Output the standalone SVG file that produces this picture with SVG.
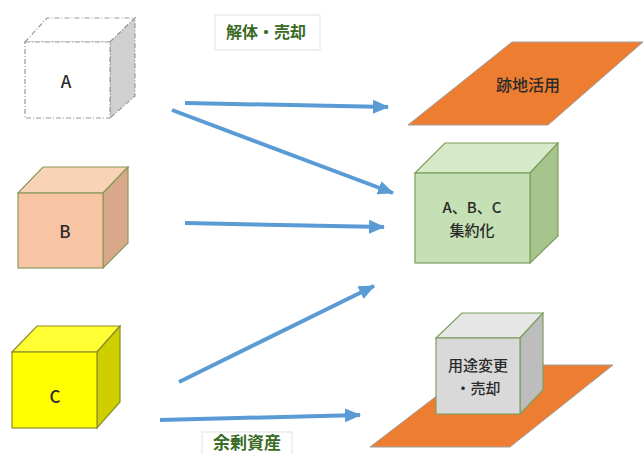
<svg xmlns="http://www.w3.org/2000/svg" width="644" height="454" viewBox="0 0 644 454">
<defs>
<style>
.lbl{font-family:"Noto Sans CJK JP","Noto Sans",sans-serif;font-size:16px;fill:#3A6B25;font-weight:bold;text-anchor:middle}
.t{font-family:"Noto Sans CJK JP","Noto Sans",sans-serif;font-size:16px;fill:#2A2A2A;font-weight:500;text-anchor:middle}
.sm{font-size:15px}
.big{font-size:17px}
.lbox{fill:#fff;stroke:#E2E2E2;stroke-width:1}
.conn{stroke:#5B9BD5;stroke-width:4;fill:none;marker-end:url(#ah)}
.plane{fill:#ED7D31;stroke:#A0A0A0;stroke-width:1}
</style>
<marker id="ah" markerUnits="userSpaceOnUse" markerWidth="16" markerHeight="14" refX="15" refY="7" orient="auto">
<path d="M0,0 L16,7 L0,14 z" fill="#5B9BD5"/>
</marker>
</defs>
<rect width="644" height="454" fill="#fff"/>

<g id="cubeA">
<polygon points="25,42 47,18 135,18 110,42" fill="#fff" stroke="#999" stroke-width="1.2" stroke-dasharray="5,2,1,2"/>
<polygon points="110,42 135,18 135,96 110,118" fill="#D0D0D0" stroke="#999" stroke-width="1.2" stroke-dasharray="5,2,1,2"/>
<rect x="25" y="42" width="85" height="76" fill="#fff" stroke="#999" stroke-width="1.2" stroke-dasharray="5,2,1,2"/>
<text class="t big" x="66" y="88">A</text>
</g>

<g id="label-kaitai">
<rect class="lbox" x="215" y="15" width="105" height="35"/>
<text class="lbl" x="266" y="38">解体・売却</text>
</g>

<g id="plane-atochi">
<polygon class="plane" points="512,42 643,42 548,125 408,125"/>
<text class="t" x="528" y="91">跡地活用</text>
</g>

<g id="cubeB">
<polygon points="18,193 43,167 128,167 103,193" fill="#F9D3B8" stroke="#8A9A5B" stroke-width="1.2"/>
<polygon points="103,193 128,167 128,243 103,268" fill="#D9A88A" stroke="#8A9A5B" stroke-width="1.2"/>
<rect x="18" y="193" width="85" height="75" fill="#F8C4A4" stroke="#8A9A5B" stroke-width="1.2"/>
<text class="t big" x="65" y="238">B</text>
</g>

<g id="cubeABC">
<polygon points="415,173 445,143 558,143 530,173" fill="#D6E9C9" stroke="#7E9E5E" stroke-width="1.2"/>
<polygon points="530,173 558,143 558,236 530,263" fill="#A6C58C" stroke="#7E9E5E" stroke-width="1.2"/>
<rect x="415" y="173" width="115" height="90" fill="#C5E0B4" stroke="#7E9E5E" stroke-width="1.2"/>
<text class="t sm" x="472" y="213">A、B、C</text>
<text class="t sm" x="472" y="236">集約化</text>
</g>

<g id="cubeC">
<polygon points="12,352 37,326 120,326 97,352" fill="#FFFF33" stroke="#8C8C2B" stroke-width="1.2"/>
<polygon points="97,352 120,326 120,402 97,428" fill="#CFCF00" stroke="#8C8C2B" stroke-width="1.2"/>
<rect x="12" y="352" width="85" height="76" fill="#FFFF00" stroke="#8C8C2B" stroke-width="1.2"/>
<text class="t big" x="55" y="403">C</text>
</g>

<g id="label-yojo">
<rect class="lbox" x="202" y="432" width="90" height="26"/>
<text class="lbl" x="247" y="449" style="font-size:17px">余剰資産</text>
</g>

<g id="plane-yoto">
<polygon class="plane" points="477,365 613,365 510,447 370,447"/>
</g>

<g id="cubeGray">
<polygon points="436,338 462,313 543,313 520,338" fill="#E6E6E6" stroke="#7F9F5F" stroke-width="1.2"/>
<polygon points="520,338 543,313 543,390 520,414" fill="#BDBDBD" stroke="#7F9F5F" stroke-width="1.2"/>
<rect x="436" y="338" width="84" height="76" fill="#D9D9D9" stroke="#7F9F5F" stroke-width="1.2"/>
<text class="t sm" x="478" y="371">用途変更</text>
<text class="t sm" x="478" y="394">・売却</text>
</g>

<g id="connectors">
<line class="conn" x1="185" y1="103" x2="388" y2="107"/>
<line class="conn" x1="172" y1="110" x2="393" y2="193"/>
<line class="conn" x1="185" y1="223" x2="384" y2="227"/>
<line class="conn" x1="179" y1="382" x2="374" y2="286"/>
<line class="conn" x1="160" y1="420" x2="360" y2="415"/>
</g>
</svg>
